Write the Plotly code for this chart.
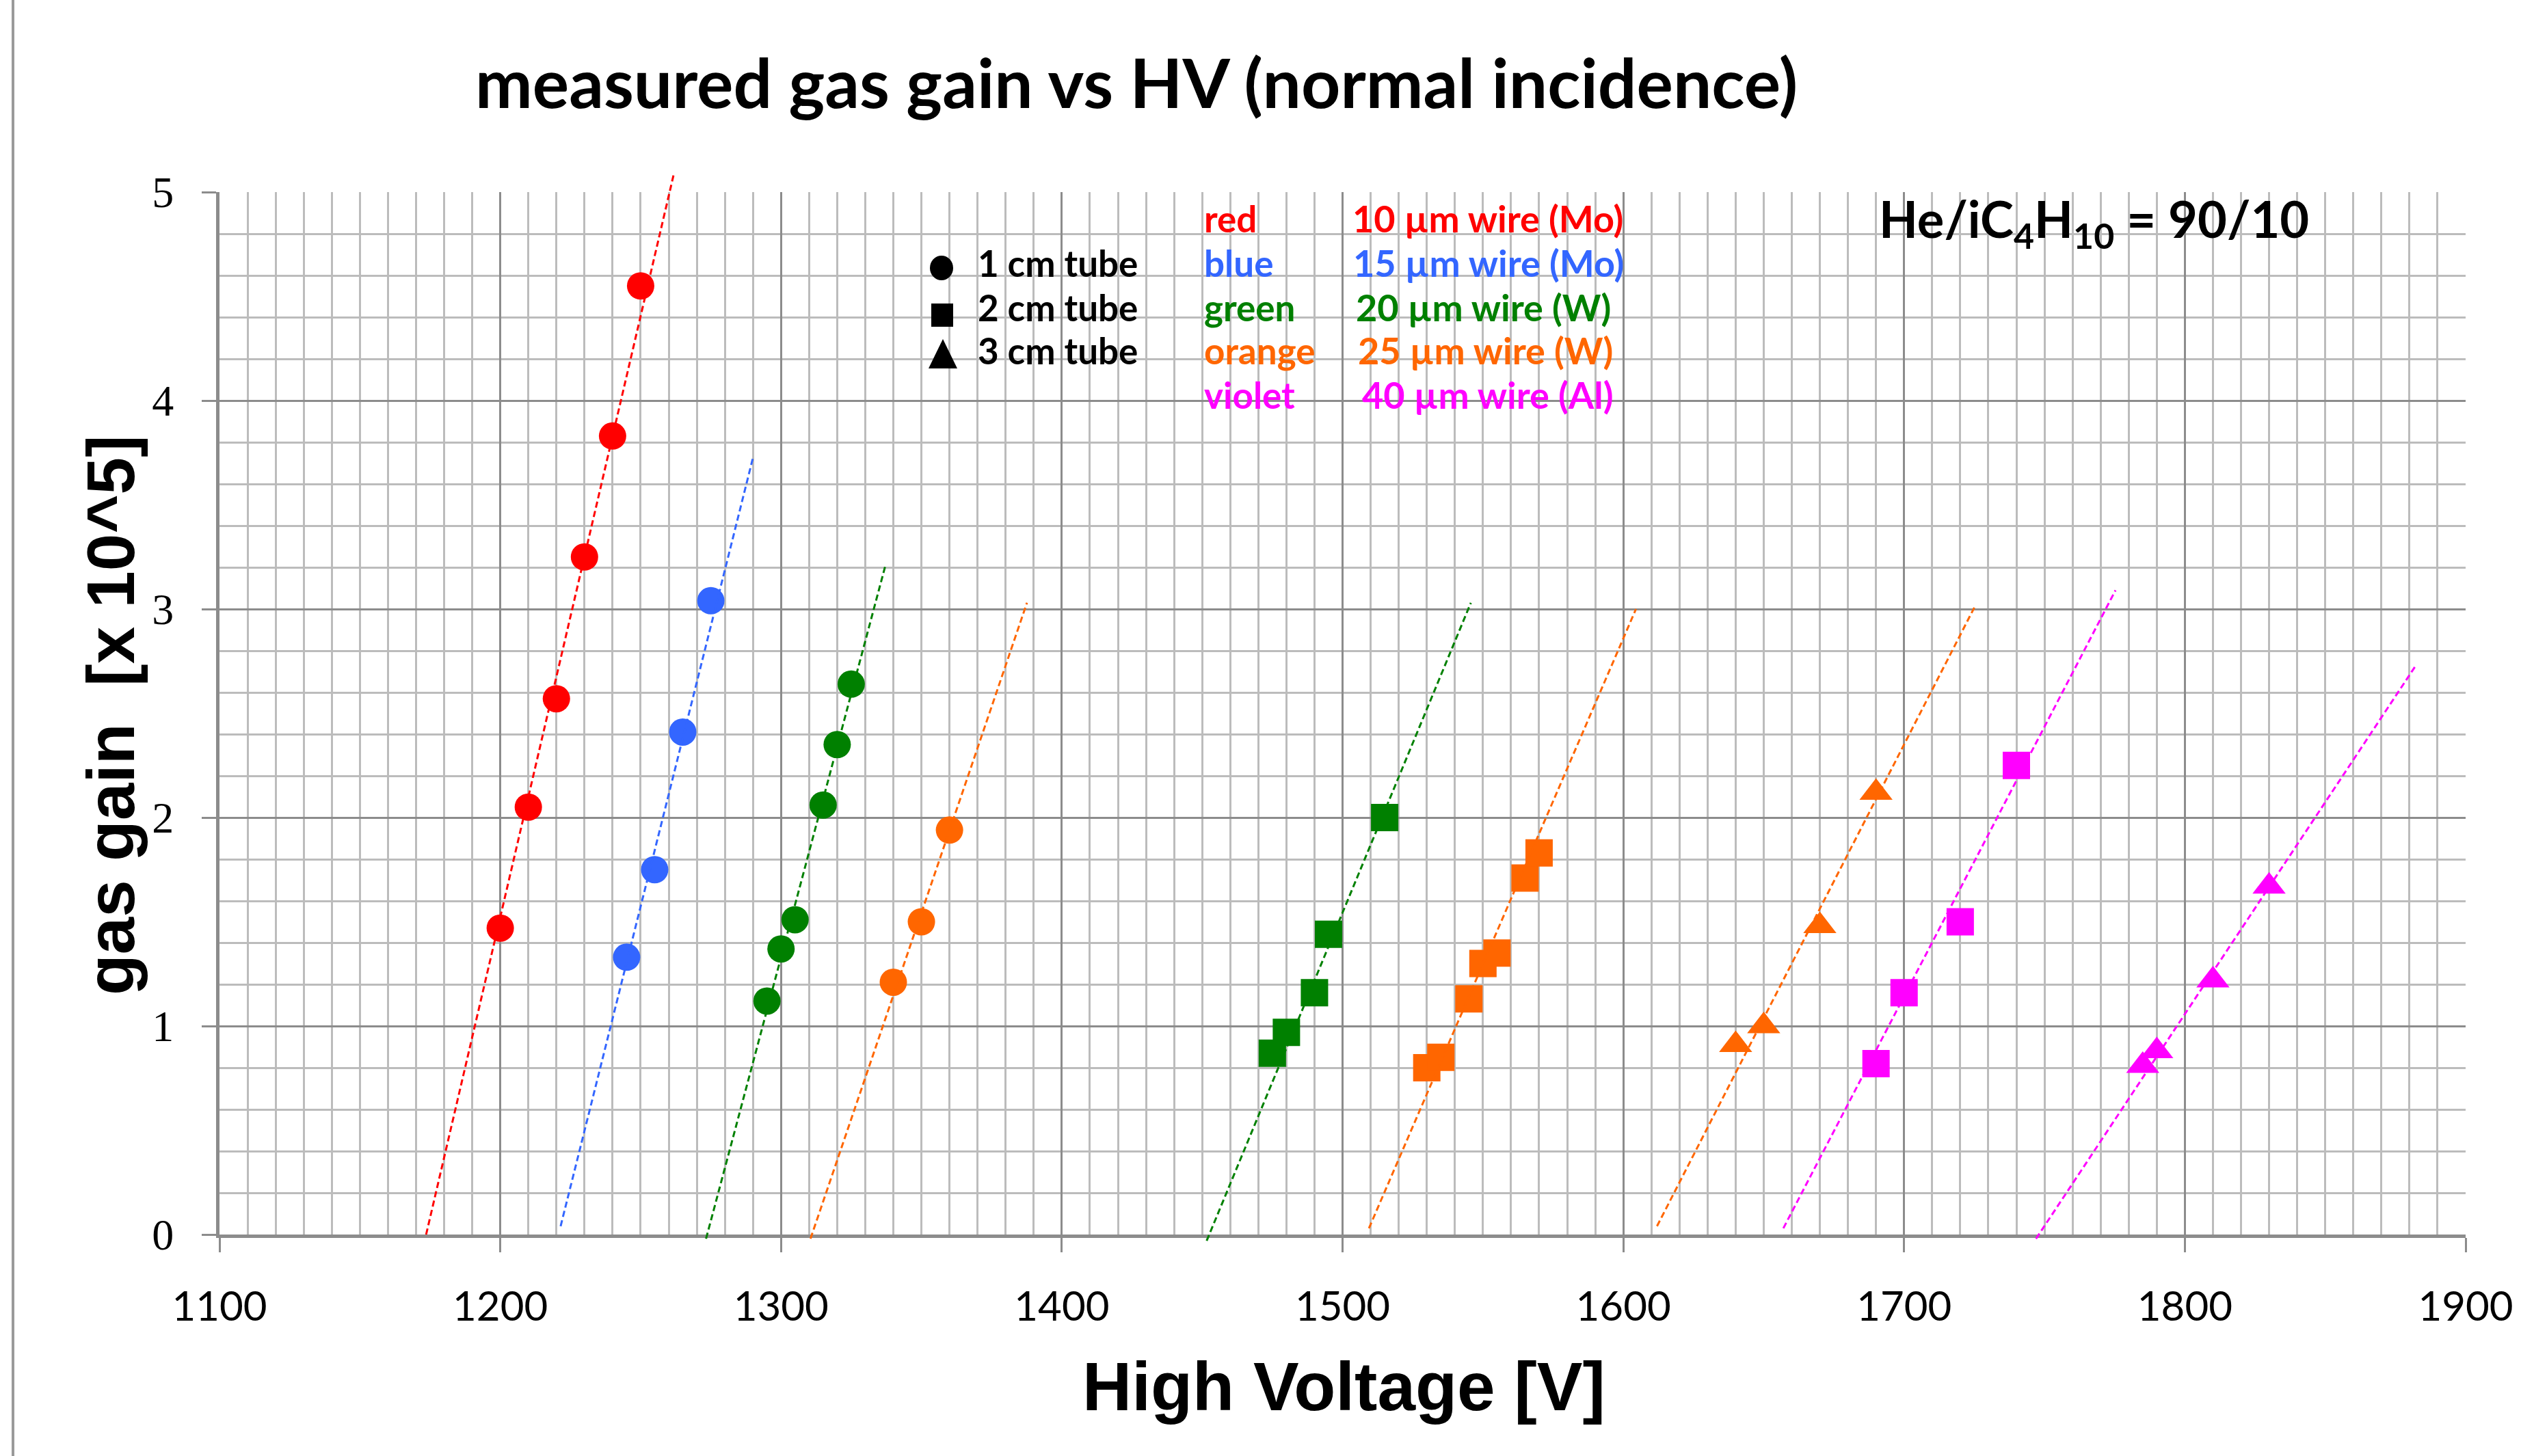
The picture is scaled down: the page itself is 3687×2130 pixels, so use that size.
import plotly.graph_objects as go

# ---------------- data ----------------
# 1 cm tube (circles)
red_c_v = [1200, 1210, 1220, 1230, 1240, 1250]
red_c_g = [1.47, 2.05, 2.57, 3.25, 3.83, 4.55]
blue_c_v = [1245, 1255, 1265, 1275]
blue_c_g = [1.33, 1.75, 2.41, 3.04]
green_c_v = [1295, 1300, 1305, 1315, 1320, 1325]
green_c_g = [1.12, 1.37, 1.51, 2.06, 2.35, 2.64]
orange_c_v = [1340, 1350, 1360]
orange_c_g = [1.21, 1.50, 1.94]
# 2 cm tube (squares)
green_s_v = [1475, 1480, 1490, 1495, 1515]
green_s_g = [0.87, 0.97, 1.16, 1.44, 2.00]
orange_s_v = [1530, 1535, 1545, 1550, 1555, 1565, 1570]
orange_s_g = [0.80, 0.85, 1.13, 1.30, 1.35, 1.71, 1.83]
violet_s_v = [1690, 1700, 1720, 1740]
violet_s_g = [0.82, 1.16, 1.50, 2.25]
# 3 cm tube (triangles)
orange_t_v = [1640, 1650, 1670, 1690]
orange_t_g = [0.91, 1.00, 1.48, 2.12]
violet_t_v = [1785, 1790, 1810, 1830]
violet_t_g = [0.81, 0.88, 1.22, 1.67]

# trend lines (end points)
red_fit_v = [1173.6, 1261.7];    red_fit_g = [0.00, 5.08]
blue_fit_v = [1221.5, 1289.9];   blue_fit_g = [0.04, 3.72]
green_c_fit_v = [1273.3, 1337.2]; green_c_fit_g = [-0.02, 3.21]
orange_c_fit_v = [1310.5, 1387.6]; orange_c_fit_g = [-0.02, 3.03]
green_s_fit_v = [1451.6, 1545.7]; green_s_fit_g = [-0.03, 3.03]
orange_s_fit_v = [1509.4, 1604.5]; orange_s_fit_g = [0.03, 3.00]
orange_t_fit_v = [1612.0, 1725.5]; orange_t_fit_g = [0.04, 3.02]
violet_s_fit_v = [1657.0, 1775.3]; violet_s_fit_g = [0.03, 3.09]
violet_t_fit_v = [1747.0, 1882.3]; violet_t_fit_g = [-0.02, 2.73]

x_ticks = [1100, 1200, 1300, 1400, 1500, 1600, 1700, 1800, 1900]
y_ticks = [0, 1, 2, 3, 4, 5]

legend_shapes = ["1 cm tube", "2 cm tube", "3 cm tube"]
legend_colors = ["red", "blue", "green", "orange", "violet"]
legend_wires = ["10 µm wire (Mo)", "15 µm wire (Mo)", "20 µm wire (W)",
                "25 µm wire (W)", "40 µm wire (Al)"]

# ---------------- styling ----------------
RED = "#FF0000"
BLUE = "#3366FF"
GREEN = "#008000"
ORANGE = "#FF6600"
VIOLET = "#FF00FF"
COLS = [RED, BLUE, GREEN, ORANGE, VIOLET]

W, H = 3687, 2130
ML, MR, MT, MB = 321, 81, 200, 300
PW = W - ML - MR
PH = H - MT - MB
PLOT_TOP, PLOT_BOT = 281, 1806
PX_PER_G = (PLOT_BOT - PLOT_TOP) / 5.0


def px(x):
    return (x - ML) / PW


def py(y):
    return (H - MB - y) / PH


fig = go.Figure()

markers = [
    (red_c_v, red_c_g, RED, "circle"),
    (blue_c_v, blue_c_g, BLUE, "circle"),
    (green_c_v, green_c_g, GREEN, "circle"),
    (orange_c_v, orange_c_g, ORANGE, "circle"),
    (green_s_v, green_s_g, GREEN, "square"),
    (orange_s_v, orange_s_g, ORANGE, "square"),
    (violet_s_v, violet_s_g, VIOLET, "square"),
    (orange_t_v, orange_t_g, ORANGE, "triangle-up"),
    (violet_t_v, violet_t_g, VIOLET, "triangle-up"),
]
for v, g, c, s in markers:
    fig.add_trace(go.Scatter(
        x=v, y=g, mode="markers", xaxis="x", yaxis="y",
        marker=dict(color=c, size=40 if s != "triangle-up" else 42, symbol=s,
                    line=dict(width=0)),
        cliponaxis=False, showlegend=False, hoverinfo="skip"))

fits = [
    (red_fit_v, red_fit_g, RED),
    (blue_fit_v, blue_fit_g, BLUE),
    (green_c_fit_v, green_c_fit_g, GREEN),
    (orange_c_fit_v, orange_c_fit_g, ORANGE),
    (green_s_fit_v, green_s_fit_g, GREEN),
    (orange_s_fit_v, orange_s_fit_g, ORANGE),
    (orange_t_fit_v, orange_t_fit_g, ORANGE),
    (violet_s_fit_v, violet_s_fit_g, VIOLET),
    (violet_t_fit_v, violet_t_fit_g, VIOLET),
]
for v, g, c in fits:
    fig.add_trace(go.Scatter(
        x=v, y=g, mode="lines", xaxis="x2", yaxis="y2",
        line=dict(color=c, width=3, dash="9px,5px"),
        showlegend=False, hoverinfo="skip"))

GRID_MAJOR = "#8c8c8c"
GRID_MINOR = "#bcbcbc"

y_dom = [py(PLOT_BOT), py(PLOT_TOP)]
y2_lo = -(H - MB - PLOT_BOT) / PX_PER_G
y2_hi = 5 + (PLOT_TOP - MT) / PX_PER_G

fig.update_layout(
    width=W, height=H,
    margin=dict(l=ML, r=MR, t=MT, b=MB, pad=0),
    paper_bgcolor="white", plot_bgcolor="rgba(0,0,0,0)",
    showlegend=False,
    xaxis=dict(
        domain=[0, 1], range=[1100, 1900], anchor="y",
        tickvals=x_ticks, ticktext=[str(t) for t in x_ticks],
        showgrid=True, gridcolor=GRID_MAJOR, gridwidth=3,
        minor=dict(dtick=10, tick0=1100, showgrid=True, gridcolor=GRID_MINOR,
                   gridwidth=3, ticks=""),
        showline=True, linecolor=GRID_MAJOR, linewidth=5,
        ticks="outside", ticklen=21, tickwidth=3, tickcolor=GRID_MAJOR,
        ticklabelstandoff=28,
        tickfont=dict(family="Lato", size=60, color="black"),
        zeroline=False, layer="below traces"),
    yaxis=dict(
        domain=y_dom, range=[0, 5], anchor="x",
        tickvals=y_ticks, ticktext=[str(t) for t in y_ticks],
        showgrid=True, gridcolor=GRID_MAJOR, gridwidth=3,
        minor=dict(dtick=0.2, tick0=0, showgrid=True, gridcolor=GRID_MINOR,
                   gridwidth=2.5, ticks=""),
        showline=True, linecolor=GRID_MAJOR, linewidth=5,
        ticks="outside", ticklen=21, tickwidth=3, tickcolor=GRID_MAJOR,
        ticklabelstandoff=28,
        tickfont=dict(family="Liberation Serif", size=64, color="black"),
        zeroline=False, layer="below traces"),
    xaxis2=dict(domain=[0, 1], range=[1100, 1900], anchor="y2",
                visible=False, showgrid=False, zeroline=False),
    yaxis2=dict(domain=[0, 1], range=[y2_lo, y2_hi], anchor="x2",
                visible=False, showgrid=False, zeroline=False),
)

ann = []
ann.append(dict(text="<b>measured gas gain vs HV (normal incidence)</b>",
                x=px(1662), y=py(119), xanchor="center", yanchor="middle",
                font=dict(family="Lato", size=100, color="black")))
ann.append(dict(text="<b>gas gain  [x 10^5]</b>", textangle=-90,
                x=px(162), y=py(1046), xanchor="center", yanchor="middle",
                font=dict(family="Liberation Sans", size=98, color="black")))
ann.append(dict(text="<b>High Voltage [V]</b>",
                x=px(1965), y=py(2028), xanchor="center", yanchor="middle",
                font=dict(family="Liberation Sans", size=100, color="black")))
ann.append(dict(text="<b>He/iC<sub>4</sub>H<sub>10</sub> = 90/10</b>",
                x=px(2746), y=py(325), xanchor="left", yanchor="middle",
                font=dict(family="Lato", size=74, color="black")))

LFS = 53
row_mid = [319, 384, 449, 512, 577]
for i, t in enumerate(legend_shapes):
    ann.append(dict(text="<b>%s</b>" % t, x=px(1428), y=py(row_mid[i + 1]),
                    xanchor="left", yanchor="middle",
                    font=dict(family="Lato", size=LFS, color="black")))
for i, (cn, wn) in enumerate(zip(legend_colors, legend_wires)):
    ann.append(dict(text="<b>%s</b>" % cn, x=px(1759), y=py(row_mid[i]),
                    xanchor="left", yanchor="middle",
                    font=dict(family="Lato", size=LFS, color=COLS[i])))
    ann.append(dict(text="<b>%s</b>" % wn, x=px(1976 + [0, 1, 5, 8, 14][i]),
                    y=py(row_mid[i]), xanchor="left", yanchor="middle",
                    font=dict(family="Lato", size=LFS + 1, color=COLS[i])))
for a in ann:
    a.update(xref="paper", yref="paper", showarrow=False)
fig.update_layout(annotations=ann)

shapes = []
# legend symbols
shapes.append(dict(type="circle", xref="paper", yref="paper",
                   xsizemode="pixel", ysizemode="pixel",
                   xanchor=px(1377), yanchor=py(392),
                   x0=-17, x1=17, y0=-18, y1=18,
                   fillcolor="black", line=dict(width=0)))
shapes.append(dict(type="rect", xref="paper", yref="paper",
                   xsizemode="pixel", ysizemode="pixel",
                   xanchor=px(1378), yanchor=py(461),
                   x0=-16, x1=16, y0=-17, y1=17,
                   fillcolor="black", line=dict(width=0)))
shapes.append(dict(type="path", xref="paper", yref="paper",
                   xsizemode="pixel", ysizemode="pixel",
                   xanchor=px(1379), yanchor=py(518),
                   path="M -21,-21 L 21,-21 L 0,22 Z",
                   fillcolor="black", line=dict(width=0)))
# outer frame line on the left
shapes.append(dict(type="line", xref="paper", yref="paper",
                   x0=px(19), x1=px(19), y0=py(0), y1=py(H),
                   line=dict(color="#9a9a9a", width=4)))
fig.update_layout(shapes=shapes)

fig.write_html("out.html")
